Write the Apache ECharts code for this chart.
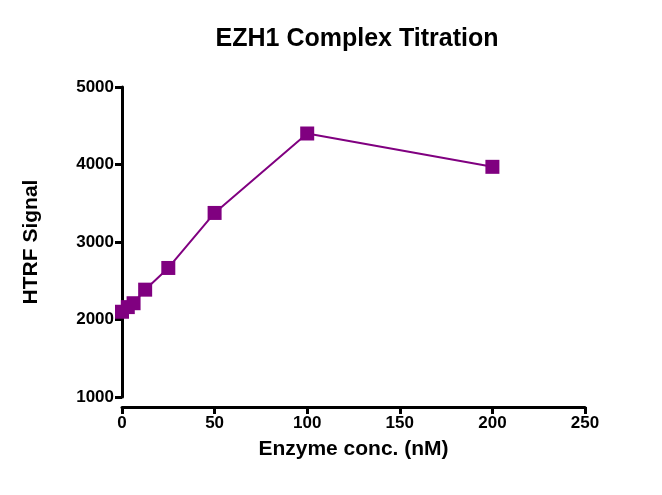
<!DOCTYPE html>
<html>
<head>
<meta charset="UTF-8">
<style>html,body{margin:0}#main{width:662px;height:495px}</style>
</head>
<body>
<div id="main"></div>
<script src="https://cdn.jsdelivr.net/npm/echarts@6/dist/echarts.min.js"></script>
<script>
const conc = [0, 3.125, 6.25, 12.5, 25, 50, 100, 200];
const signal = [2100, 2160, 2210, 2385, 2665, 3375, 4400, 3970];

const chart = echarts.init(document.getElementById('main'));
const font = 'Arial, Liberation Sans, sans-serif';
chart.setOption({
    title: {
        text: 'EZH1 Complex Titration', left: 352, top: 22, textAlign: 'center',
        textStyle: {fontFamily: font, fontSize: 25, fontWeight: 'bold', color: '#000'}
    },
    grid: {left: 122, right: 77, top: 87, bottom: 98},
    xAxis: {
        type: 'value', min: 0, max: 250, interval: 50, offset: 10,
        name: 'Enzyme conc. (nM)', nameLocation: 'middle', nameGap: 32,
        nameTextStyle: {fontFamily: font, fontSize: 21, fontWeight: 'bold', color: '#000'},
        axisLine: {lineStyle: {color: '#000', width: 3}},
        axisTick: {length: 7, lineStyle: {color: '#000', width: 3}},
        axisLabel: {fontFamily: font, fontSize: 17, fontWeight: 'bold', color: '#000', formatter: v => String(v)},
        splitLine: {show: false}
    },
    yAxis: {
        type: 'value', min: 1000, max: 5000, interval: 1000,
        name: 'HTRF Signal', nameLocation: 'middle', nameGap: 80,
        nameTextStyle: {fontFamily: font, fontSize: 21, fontWeight: 'bold', color: '#000'},
        axisLine: {show: true, lineStyle: {color: '#000', width: 3}},
        axisTick: {show: true, length: 7, lineStyle: {color: '#000', width: 3}},
        axisLabel: {fontFamily: font, fontSize: 17, fontWeight: 'bold', color: '#000', formatter: v => String(v)},
        splitLine: {show: false}
    },
    series: [{
        type: 'line',
        data: conc.map((c, i) => [c, signal[i]]),
        symbol: 'rect', symbolSize: 14,
        lineStyle: {color: '#800080', width: 2},
        itemStyle: {color: '#800080'}
    }]
});
</script>
</body>
</html>
